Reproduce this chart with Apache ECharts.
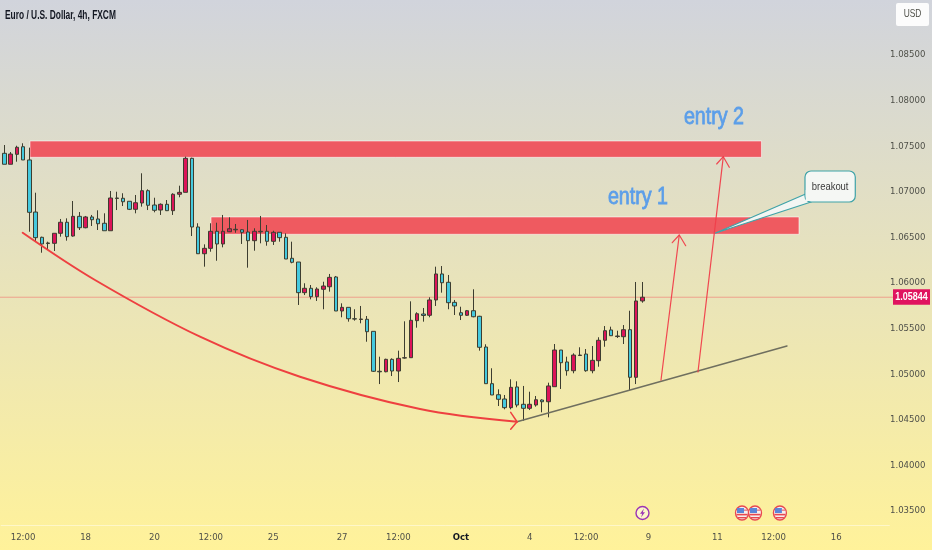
<!DOCTYPE html>
<html><head><meta charset="utf-8">
<style>html,body{margin:0;padding:0;background:#fff}#c{width:932px;height:550px}</style>
<script src="https://cdn.jsdelivr.net/npm/echarts@6/dist/echarts.min.js"></script>
</head><body><div id="c"></div>
<script>
const chartTitle = 'Euro / U.S. Dollar, 4h, FXCM';
const barCount = 142;
const xTickIndex = [3,13,24,33,43,54,63,73,84,93,103,114,123,133];
const xTickLabels = ['12:00','18','20','12:00','25','27','12:00','Oct','4','12:00','9','11','12:00','16'];
const yTicks = [1.035,1.04,1.045,1.05,1.055,1.06,1.065,1.07,1.075,1.08,1.085];
const yMin = 1.033465, yMax = 1.09103;
const lastPrice = 1.05844;

const opens = [1.07422,1.07302,1.07411,1.07494,1.07349,1.06778,1.06501,1.06439,1.06435,1.06545,1.06666,1.06515,1.06731,1.06606,1.06724,1.06702,1.06655,1.06573,1.06932,1.06929,1.06896,1.06808,1.06877,1.07012,1.06855,1.06800,1.06863,1.06793,1.06973,1.06994,1.07367,1.06614,1.06321,1.06380,1.06567,1.06428,1.06562,1.06583,1.06584,1.06559,1.06464,1.06567,1.06567,1.06457,1.06556,1.06501,1.06271,1.06230,1.05894,1.05942,1.05850,1.05931,1.05959,1.06066,1.05693,1.05733,1.05608,1.05600,1.05602,1.05470,1.05032,1.05027,1.05163,1.05035,1.05177,1.05181,1.05587,1.05660,1.05646,1.05814,1.06099,1.06008,1.05788,1.05674,1.05646,1.05696,1.05635,1.05298,1.04896,1.04775,1.04728,1.04633,1.04860,1.04670,1.04626,1.04662,1.04717,1.04698,1.04863,1.05265,1.05134,1.05038,1.05205,1.05221,1.05038,1.05148,1.05372,1.05485,1.05413,1.05411,1.05488,1.04966,1.05803];
const closes = [1.07302,1.07414,1.07488,1.07349,1.06775,1.06497,1.06428,1.06433,1.06545,1.06666,1.06508,1.06731,1.06606,1.06724,1.06694,1.06650,1.06573,1.06932,1.06927,1.06891,1.06808,1.06880,1.07012,1.06852,1.06797,1.06863,1.06793,1.06973,1.06994,1.07367,1.06614,1.06321,1.06380,1.06567,1.06428,1.06567,1.06595,1.06589,1.06556,1.06464,1.06567,1.06561,1.06457,1.06556,1.06497,1.06263,1.06227,1.05894,1.05942,1.05850,1.05934,1.05967,1.06062,1.05693,1.05733,1.05608,1.05605,1.05605,1.05466,1.05032,1.05026,1.05163,1.05035,1.05174,1.05181,1.05591,1.05663,1.05644,1.05814,1.06099,1.06003,1.05784,1.05748,1.05646,1.05696,1.05630,1.05295,1.04896,1.04772,1.04725,1.04633,1.04856,1.04662,1.04626,1.04670,1.04720,1.04698,1.04871,1.05265,1.05126,1.05038,1.05210,1.05210,1.05038,1.05152,1.05372,1.05477,1.05422,1.05419,1.05488,1.04966,1.05803,1.05844];
const lows = [1.07302,1.07302,1.07330,1.07349,1.06562,1.06460,1.06332,1.06362,1.06351,1.06508,1.06464,1.06508,1.06581,1.06600,1.06625,1.06581,1.06573,1.06573,1.06800,1.06844,1.06800,1.06764,1.06837,1.06800,1.06775,1.06746,1.06789,1.06746,1.06940,1.06994,1.06515,1.06318,1.06179,1.06343,1.06244,1.06391,1.06559,1.06551,1.06428,1.06168,1.06354,1.06435,1.06409,1.06417,1.06453,1.06263,1.06216,1.05759,1.05868,1.05821,1.05803,1.05712,1.05905,1.05693,1.05624,1.05576,1.05587,1.05558,1.05356,1.05024,1.04892,1.05021,1.04980,1.04914,1.05170,1.05181,1.05510,1.05576,1.05624,1.05748,1.05894,1.05712,1.05649,1.05594,1.05638,1.05624,1.05258,1.04896,1.04772,1.04651,1.04615,1.04615,1.04637,1.04490,1.04607,1.04644,1.04582,1.04527,1.04863,1.04838,1.04984,1.05010,1.05199,1.05027,1.05010,1.05082,1.05301,1.05419,1.05397,1.05331,1.04827,1.04892,1.05784];
const highs = [1.07513,1.07436,1.07505,1.07532,1.07484,1.06990,1.06508,1.06453,1.06545,1.06702,1.06709,1.06899,1.06778,1.06735,1.06746,1.06797,1.06764,1.07009,1.07001,1.06984,1.06896,1.06965,1.07203,1.07027,1.06935,1.06873,1.06910,1.06984,1.07067,1.07385,1.07374,1.06655,1.06424,1.06655,1.06661,1.06746,1.06720,1.06647,1.06589,1.06691,1.06600,1.06735,1.06636,1.06573,1.06556,1.06545,1.06453,1.06230,1.05997,1.05978,1.05953,1.06014,1.06099,1.06077,1.05777,1.05733,1.05712,1.05748,1.05638,1.05470,1.05192,1.05170,1.05174,1.05258,1.05580,1.05799,1.05679,1.05726,1.05843,1.06179,1.06186,1.06088,1.05814,1.05740,1.05704,1.05931,1.05640,1.05328,1.05065,1.04834,1.04772,1.04944,1.04922,1.04871,1.04808,1.04761,1.04725,1.04907,1.05331,1.05265,1.05192,1.05229,1.05295,1.05276,1.05309,1.05405,1.05528,1.05521,1.05477,1.05539,1.05696,1.06011,1.06011];

// drawing tools, in [bar index, price]
const zones = [[4.11,1.07557,121.05,1.07378],[33.05,1.06724,127.05,1.06534]];
const curvePoints = [[2.94,1.06551],[14.5,1.06033],[31.29,1.05411],[47.27,1.04972],[66.46,1.04618],[81.97,1.04479]];
const curveHead = [[80.96,1.04582],[81.97,1.04479],[80.96,1.04396]];
const trendLine = [[81.97,1.04479],[125.13,1.05309]];
const arrowOne = [[104.99,1.04936],[107.91,1.06526]];
const arrowOneHead = [[106.79,1.06442],[107.91,1.06526],[108.94,1.06409]];
const arrowTwo = [[110.9,1.05024],[114.95,1.07385]];
const arrowTwoHead = [[113.89,1.07305],[114.95,1.07385],[115.91,1.07269]];
const entryLabels = [[101.31,1.06943,'entry 1'],[113.46,1.07820,'entry 2']];
const calloutBox = [128.01,1.07228,136.05,1.06888];
const calloutTail = [[128.01,1.06973],[113.62,1.06545],[128.97,1.06888]];
const calloutText = 'breakout';
const eventBolt = [102.03];
const eventFlags = [117.94,120.02,124.0];
const eventPrice = 1.03478;

const axisFont = '"DejaVu Sans Condensed","DejaVu Sans",sans-serif';
const textFont = '"Liberation Sans",sans-serif';
const categories = Array.from({length: barCount}, (_, i) => {
  const k = xTickIndex.indexOf(i);
  return k >= 0 ? xTickLabels[k] : '';
});
const ohlc = opens.map((o, i) => [o, closes[i], lows[i], highs[i]]);

function overlayLine(data, color, width, z, smooth) {
  return { type: 'line', xAxisIndex: 1, yAxisIndex: 0, data, symbol: 'none', smooth: smooth || false, silent: true, clip: false, z,
    lineStyle: { color, width, cap: 'round', join: 'round' } };
}
const redArrow = 'rgba(240,62,74,0.95)';

const chart = echarts.init(document.getElementById('c'), null, { renderer: 'canvas' });
chart.setOption({
  animation: false,
  backgroundColor: new echarts.graphic.LinearGradient(0, 0, 0, 1, [
    { offset: 0, color: '#d1d4dc' }, { offset: 1, color: '#fff29a' }
  ]),
  grid: { left: 1.17, top: 0, width: 888.2, height: 525, containLabel: false },
  xAxis: [
    { type: 'category', data: categories, boundaryGap: true, position: 'bottom',
      axisLine: { show: true, lineStyle: { color: 'rgba(255,255,255,0.45)', width: 1 } },
      axisTick: { show: false }, splitLine: { show: false },
      axisLabel: { interval: 0, margin: 8, fontFamily: axisFont, fontSize: 9.5, color: '#4f5049',
        formatter: v => v === 'Oct' ? '{b|Oct}' : v,
        rich: { b: { fontFamily: axisFont, fontSize: 9.5, fontWeight: 'bold', color: '#131722' } } } },
    { type: 'value', min: -0.5, max: barCount - 0.5, show: false }
  ],
  yAxis: { type: 'value', position: 'right', min: yMin, max: yMax, scale: true,
    axisLine: { show: false }, axisTick: { show: false }, splitLine: { show: false },
    axisLabel: { customValues: yTicks, margin: 36, align: 'right', fontFamily: axisFont, fontSize: 9.5, color: '#4f5049',
      formatter: v => v.toFixed(5) } },
  series: [
    { type: 'custom', xAxisIndex: 1, yAxisIndex: 0, z: 1, silent: true, data: zones, encode: { x: [0, 2], y: [1, 3] },
      renderItem: (p, api) => {
        const a = api.coord([api.value(0), api.value(1)]), b = api.coord([api.value(2), api.value(3)]);
        return { type: 'rect', shape: { x: a[0], y: a[1], width: b[0] - a[0], height: b[1] - a[1] },
          style: { fill: 'rgba(242,60,75,0.82)', stroke: 'rgba(255,255,255,0.55)', lineWidth: 1 } };
      } },
    { type: 'custom', xAxisIndex: 1, yAxisIndex: 0, z: 2, silent: true, clip: false, data: [[0, lastPrice]], encode: { y: 1 },
      renderItem: (p, api) => {
        const c = api.coord([0, api.value(1)]);
        return { type: 'group', children: [
          { type: 'line', shape: { x1: 0, y1: c[1], x2: 893, y2: c[1] }, style: { stroke: 'rgba(242,60,75,0.4)', lineWidth: 1 } },
          { type: 'rect', shape: { x: 893, y: c[1] - 8, width: 37, height: 15.5 }, style: { fill: '#e0135f' } },
          { type: 'text', x: 911.5, y: c[1] - 0.2, scaleX: 0.78, style: { text: lastPrice.toFixed(5), align: 'center', verticalAlign: 'middle', fill: '#fff', font: 'bold 11.5px ' + textFont } }
        ] };
      } },
    { type: 'candlestick', xAxisIndex: 0, yAxisIndex: 0, data: ohlc, barWidth: 4, z: 3, silent: true,
      itemStyle: { color: '#dc1459', color0: '#45c9de', borderColor: '#3d3d30', borderColor0: '#3d3d30', borderWidth: 1 } },
    overlayLine(trendLine, '#6f6f5f', 1.5, 4),
    overlayLine(curvePoints, '#ee4040', 2, 4, 0.35),
    overlayLine(curveHead, '#ee4040', 1.5, 4),
    overlayLine(arrowOne, redArrow, 1.2, 5),
    overlayLine(arrowOneHead, redArrow, 1.2, 5),
    overlayLine(arrowTwo, redArrow, 1.2, 5),
    overlayLine(arrowTwoHead, redArrow, 1.2, 5),
    { type: 'custom', xAxisIndex: 1, yAxisIndex: 0, z: 6, silent: true, clip: false, data: entryLabels, encode: { x: 0, y: 1 },
      renderItem: (p, api) => {
        const c = api.coord([api.value(0), api.value(1)]);
        return { type: 'text', x: c[0], y: c[1], scaleX: 0.82, style: { text: entryLabels[p.dataIndex][2], align: 'center', verticalAlign: 'middle',
          fill: '#5b9ee9', font: '24px ' + textFont, stroke: '#5b9ee9', lineWidth: 0.8 } };
      } },
    { type: 'custom', xAxisIndex: 1, yAxisIndex: 0, z: 7, silent: true, clip: false, data: [calloutBox], encode: { x: [0, 2], y: [1, 3] },
      renderItem: (p, api) => {
        const a = api.coord([api.value(0), api.value(1)]), b = api.coord([api.value(2), api.value(3)]);
        const tail = calloutTail.map(q => api.coord(q));
        return { type: 'group', children: [
          { type: 'polygon', shape: { points: tail }, style: { fill: '#f3f6f3', stroke: '#3fa3a8', lineWidth: 1.2 } },
          { type: 'rect', shape: { x: a[0], y: a[1], width: b[0] - a[0], height: b[1] - a[1], r: 6 }, style: { fill: '#f5f7f4', stroke: '#3fa3a8', lineWidth: 1.2 } },
          { type: 'rect', shape: { x: a[0] + 0.7, y: b[1] - 12, width: 6, height: 11 }, style: { fill: '#f5f7f4' } },
          { type: 'text', x: (a[0] + b[0]) / 2, y: (a[1] + b[1]) / 2, scaleX: 0.82, style: { text: calloutText, align: 'center', verticalAlign: 'middle', fill: '#3a3a3a', font: '11.5px ' + textFont } }
        ] };
      } },
    { type: 'custom', xAxisIndex: 1, yAxisIndex: 0, z: 6, silent: true, clip: false, data: eventBolt.map(v => [v, eventPrice]), encode: { x: 0, y: 1 },
      renderItem: (p, api) => {
        const c = api.coord([api.value(0), api.value(1)]);
        return { type: 'group', x: c[0], y: c[1], children: [
          { type: 'circle', shape: { cx: 0, cy: 0, r: 6.5 }, style: { fill: '#fdf6c8', stroke: '#9c35b5', lineWidth: 1.4 } },
          { type: 'polygon', shape: { points: [[1.5,-4.5],[-2.5,0.8],[-0.3,0.8],[-1.5,4.5],[2.5,-0.8],[0.3,-0.8]] }, style: { fill: '#9c35b5' } }
        ] };
      } },
    { type: 'custom', xAxisIndex: 1, yAxisIndex: 0, z: 6, silent: true, clip: false, data: eventFlags.map(v => [v, eventPrice]), encode: { x: 0, y: 1 },
      renderItem: (p, api) => {
        const c = api.coord([api.value(0), api.value(1)]);
        return { type: 'group', x: c[0], y: c[1], children: [
          { type: 'ellipse', shape: { cx: 0, cy: 0, rx: 6.5, ry: 7 }, style: { fill: '#f6f0ee', stroke: '#e8484f', lineWidth: 1.3 } },
          { type: 'rect', shape: { x: -5, y: -5, width: 7, height: 5 }, style: { fill: '#5b86d8' } },
          { type: 'rect', shape: { x: 2, y: -3.5, width: 3.5, height: 1.3 }, style: { fill: '#e8747a' } },
          { type: 'rect', shape: { x: -5.6, y: 0.8, width: 11.2, height: 1.6 }, style: { fill: '#e8484f' } },
          { type: 'rect', shape: { x: -4, y: 4, width: 8, height: 1.4 }, style: { fill: '#e8484f' } }
        ] };
      } }
  ],
  graphic: [
    { type: 'text', x: 5, y: 15, scaleX: 0.645, style: { text: chartTitle, align: 'left', verticalAlign: 'middle', fill: '#131722', font: 'bold 13px ' + textFont }, z: 21 },
    { type: 'rect', x: 896, y: 3, shape: { width: 33, height: 23, r: 2 }, style: { fill: '#fcfcfc' }, z: 20 },
    { type: 'text', x: 912.5, y: 14.5, scaleX: 0.8, style: { text: 'USD', align: 'center', verticalAlign: 'middle', fill: '#4f5049', font: '10.5px ' + textFont }, z: 21 }
  ]
});
</script></body></html>
